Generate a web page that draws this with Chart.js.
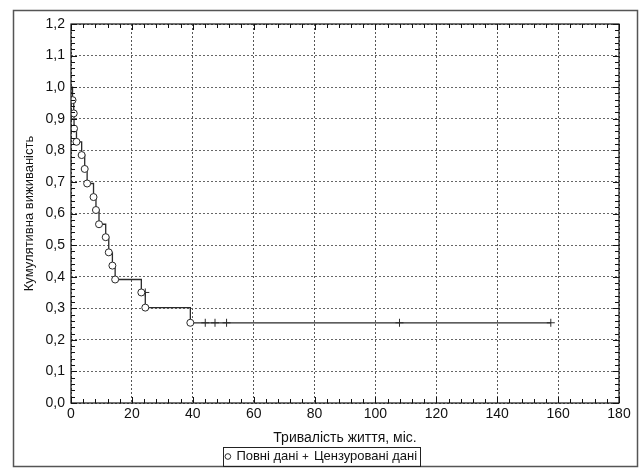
<!DOCTYPE html>
<html>
<head>
<meta charset="utf-8">
<script src="https://cdn.jsdelivr.net/npm/chart.js@4/dist/chart.umd.min.js"></script>
<style>
  html, body { margin: 0; padding: 0; background: #fff; }
  canvas { display: block; }
</style>
</head>
<body>
<canvas id="survival" width="644" height="476"></canvas>
<script>
// months and survival where an event happened (circles)
const eventMonths = [0.5, 0.9, 1.0, 1.8, 3.5, 4.5, 5.3, 7.4, 8.2, 9.2, 11.4, 12.4, 13.6, 14.5, 23.1, 24.4, 39.2];
const eventSurvival = [0.959, 0.917, 0.869, 0.827, 0.785, 0.741, 0.695, 0.652, 0.611, 0.566, 0.525, 0.477, 0.435, 0.391, 0.350, 0.302, 0.254];
// censored observations (crosses)
const censoredMonths = [24.4, 44.1, 47.3, 51.1, 107.9, 157.6];
const censoredSurvival = [0.350, 0.254, 0.254, 0.254, 0.254, 0.254];

const xTicks = [0, 20, 40, 60, 80, 100, 120, 140, 160, 180];
const yTicks = [0, 0.1, 0.2, 0.3, 0.4, 0.5, 0.6, 0.7, 0.8, 0.9, 1.0, 1.1, 1.2];

const ink = "#2a2a2a";
const font = "'Liberation Sans', Arial, sans-serif";

// step curve: start at 1, every event, then run out to the last censored point
const curve = [{ x: 0, y: 1 }]
  .concat(eventMonths.map((m, i) => ({ x: m, y: eventSurvival[i] })))
  .concat([{ x: censoredMonths[censoredMonths.length - 1], y: censoredSurvival[censoredSurvival.length - 1] }]);

const framePlugin = {
  id: "frame",
  afterLayout(chart) {
    // center the legend on the whole canvas, not on the padded area
    chart.legend.left += 12;
    chart.legend.right += 12;
  },
  beforeDraw(chart) {
    const ctx = chart.ctx;
    ctx.save();
    ctx.fillStyle = "#fff";
    ctx.fillRect(0, 0, chart.width, chart.height);
    ctx.restore();
  },
  afterDraw(chart) {
    const ctx = chart.ctx;
    const a = chart.chartArea;
    const xs = chart.scales.x, ys = chart.scales.y;
    ctx.save();
    // outer frame
    ctx.strokeStyle = "#555";
    ctx.lineWidth = 1.5;
    ctx.strokeRect(13.5, 10.5, 624, 456);
    // plot box
    ctx.strokeStyle = "#111";
    ctx.lineWidth = 1.2;
    ctx.strokeRect(a.left, a.top, a.right - a.left, a.bottom - a.top);
    // inward ticks on all four sides
    ctx.lineWidth = 1;
    ctx.beginPath();
    for (let v = 0; v <= 180; v += 4) {
      const px = Math.round(xs.getPixelForValue(v)) + 0.5;
      const len = v % 20 === 0 ? 6 : 4;
      ctx.moveTo(px, a.bottom); ctx.lineTo(px, a.bottom - len);
      ctx.moveTo(px, a.top); ctx.lineTo(px, a.top + len);
    }
    for (let k = 0; k <= 60; k++) {
      const py = Math.round(ys.getPixelForValue(k * 0.02)) + 0.5;
      const len = k % 5 === 0 ? 6 : 4;
      ctx.moveTo(a.left, py); ctx.lineTo(a.left + len, py);
      ctx.moveTo(a.right, py); ctx.lineTo(a.right - len, py);
    }
    ctx.stroke();
    // legend box
    const hb = chart.legend.legendHitBoxes;
    if (hb && hb.length) {
      const l = Math.min(...hb.map(b => b.left)) - 3;
      const r = Math.max(...hb.map(b => b.left + b.width)) + 3;
      const t = Math.min(...hb.map(b => b.top)) - 3;
      const bt = Math.max(...hb.map(b => b.top + b.height)) + 3;
      ctx.strokeStyle = "#222";
      ctx.lineWidth = 1;
      ctx.strokeRect(Math.round(l) + 0.5, Math.round(t) + 0.5, Math.round(r - l), Math.round(bt - t));
    }
    ctx.restore();
  }
};

new Chart("survival", {
  type: "scatter",
  data: {
    datasets: [
      {
        type: "line",
        label: "curve",
        data: curve,
        stepped: true,
        borderColor: ink,
        borderWidth: 1.3,
        pointRadius: 0,
        fill: false,
        order: 3,
      },
      {
        label: "Повні дані",
        data: eventMonths.map((m, i) => ({ x: m, y: eventSurvival[i] })),
        pointStyle: "circle",
        pointRadius: 3.5,
        pointBackgroundColor: "#fff",
        pointBorderColor: ink,
        pointBorderWidth: 1,
        backgroundColor: "#fff",
        borderColor: ink,
        order: 1,
      },
      {
        label: "Цензуровані дані",
        data: censoredMonths.map((m, i) => ({ x: m, y: censoredSurvival[i] })),
        pointStyle: "cross",
        pointRadius: 4,
        pointBorderColor: ink,
        pointBorderWidth: 1,
        borderColor: ink,
        order: 2,
      },
    ],
  },
  options: {
    responsive: false,
    animation: false,
    devicePixelRatio: 1,
    layout: { padding: { top: 24, right: 25, left: 0, bottom: 3 } },
    plugins: {
      tooltip: { enabled: false },
      legend: {
        position: "bottom",
        labels: {
          filter: (item) => item.text !== "curve",
          usePointStyle: true,
          boxWidth: 4,
          boxHeight: 4,
          padding: 5,
          color: "#111",
          font: { family: font, size: 13 },
        },
      },
    },
    scales: {
      x: {
        type: "linear",
        min: 0,
        max: 180,
        afterBuildTicks: (s) => { s.ticks = xTicks.map((v) => ({ value: v })); },
        afterFit: (s) => { s.height = 42; },
        grid: { color: "#555", lineWidth: 1, drawTicks: false },
        border: { display: false, dash: [2, 2] },
        ticks: {
          padding: 3,
          color: "#111",
          font: { family: font, size: 14 },
          callback: (v) => String(v),
        },
        title: {
          display: true,
          text: "Тривалість життя, міс.",
          color: "#111",
          padding: { top: 0, bottom: -2 },
          font: { family: font, size: 14 },
        },
      },
      y: {
        type: "linear",
        min: 0,
        max: 1.2,
        afterBuildTicks: (s) => { s.ticks = yTicks.map((v) => ({ value: v })); },
        afterFit: (s) => { s.width = 71; },
        grid: { color: "#666", lineWidth: 1, drawTicks: false },
        border: { display: false, dash: [2, 2] },
        ticks: {
          padding: 6,
          color: "#111",
          font: { family: font, size: 14 },
          callback: (v) => v.toFixed(1).replace(".", ","),
        },
        title: {
          display: true,
          text: "Кумулятивна виживаність",
          color: "#111",
          padding: { top: 22, bottom: 0 },
          font: { family: font, size: 13 },
        },
      },
    },
  },
  plugins: [framePlugin],
});
</script>
</body>
</html>
